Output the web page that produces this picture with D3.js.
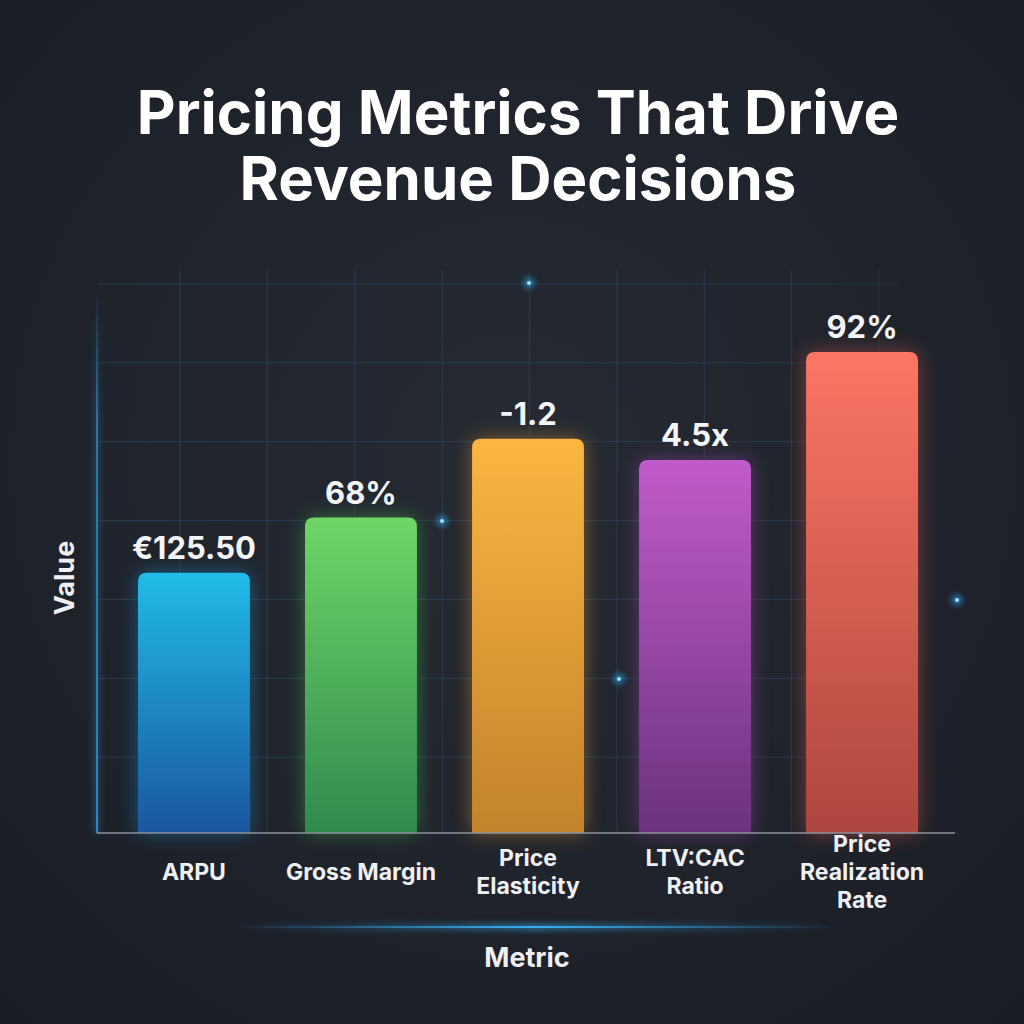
<!DOCTYPE html>
<html>
<head>
<meta charset="utf-8">
<script src="https://cdn.jsdelivr.net/npm/d3@7/dist/d3.min.js"></script>
<style>
  html, body { margin: 0; padding: 0; background: #1d2028; }
  svg { display: block; }
</style>
</head>
<body>
<div id="chart"></div>
<script>
// chart data
const metrics = ["ARPU", "Gross Margin", "Price Elasticity", "LTV:CAC Ratio", "Price Realization Rate"];
const labelLines = [["ARPU"], ["Gross Margin"], ["Price", "Elasticity"], ["LTV:CAC", "Ratio"], ["Price", "Realization", "Rate"]];
const valueLabels = ["€125.50", "68%", "-1.2", "4.5x", "92%"];
// visual bar height on the hidden value axis (grid units)
const barHeights = [3.3, 4.0, 5.0, 4.73, 6.1];
const topColors = ["#21bbe8", "#6fd667", "#fbb642", "#c25bca", "#fc7664"];
const bottomColors = ["#1a56a0", "#2f8a4e", "#c3832b", "#6a327e", "#ad463f"];
const glowColors = ["#1e9be0", "#4fc25a", "#f2a23a", "#b04fc0", "#f0604f"];
const sparkPoints = [[529, 283], [442, 521], [619, 679], [957, 600]];

const width = 1024, height = 1024;
const font = "Inter, 'Open Sans', sans-serif";

const svg = d3.select("#chart").append("svg")
  .attr("width", width)
  .attr("height", height);

const defs = svg.append("defs");

// background with a soft vignette
const bg = defs.append("radialGradient").attr("id", "bg")
  .attr("cx", "50%").attr("cy", "45%").attr("r", "75%");
bg.append("stop").attr("offset", "0%").attr("stop-color", "#252a33");
bg.append("stop").attr("offset", "100%").attr("stop-color", "#1a1d24");
svg.append("rect").attr("width", width).attr("height", height).attr("fill", "url(#bg)");

const glow = defs.append("filter").attr("id", "glow")
  .attr("x", "-50%").attr("y", "-50%").attr("width", "200%").attr("height", "200%");
glow.append("feGaussianBlur").attr("stdDeviation", 10);

const softGlow = defs.append("filter").attr("id", "softGlow")
  .attr("x", "-200%").attr("y", "-200%").attr("width", "500%").attr("height", "500%");
softGlow.append("feGaussianBlur").attr("stdDeviation", 3);

metrics.forEach((m, i) => {
  const g = defs.append("linearGradient").attr("id", "bar" + i)
    .attr("x1", 0).attr("y1", 0).attr("x2", 0).attr("y2", 1);
  g.append("stop").attr("offset", "0%").attr("stop-color", topColors[i]);
  g.append("stop").attr("offset", "100%").attr("stop-color", bottomColors[i]);
});

// grid fade mask
const fade = defs.append("linearGradient").attr("id", "gridFade")
  .attr("x1", 0).attr("y1", 0).attr("x2", 1).attr("y2", 0);
fade.append("stop").attr("offset", "0%").attr("stop-color", "#fff").attr("stop-opacity", 1);
fade.append("stop").attr("offset", "80%").attr("stop-color", "#fff").attr("stop-opacity", 0.8);
fade.append("stop").attr("offset", "100%").attr("stop-color", "#fff").attr("stop-opacity", 0);
defs.append("mask").attr("id", "gridMask")
  .append("rect").attr("x", 0).attr("y", 0).attr("width", width).attr("height", height)
  .attr("fill", "url(#gridFade)");

// layout
const left = 97, right = 955, baseline = 833;
const x = d3.scaleBand().domain(metrics).range([138, 918]).paddingInner(0.33).paddingOuter(0);
const y = d3.scaleLinear().domain([0, 7]).range([baseline, 281]);
const gx = d3.scaleLinear().domain([0, 8]).range([180, 879]);

// grid
const grid = svg.append("g").attr("mask", "url(#gridMask)");
grid.selectAll("line.h").data(d3.range(1, 8)).enter().append("line")
  .attr("x1", left).attr("x2", 900)
  .attr("y1", d => y(d) + 3).attr("y2", d => y(d) + 3)
  .attr("stroke", "#3a6f86").attr("stroke-opacity", 0.35).attr("stroke-width", 1);
grid.selectAll("line.v").data(d3.range(0, 9)).enter().append("line")
  .attr("x1", d => gx(d)).attr("x2", d => gx(d))
  .attr("y1", 270).attr("y2", baseline)
  .attr("stroke", "#3a6f86").attr("stroke-opacity", 0.35).attr("stroke-width", 1);

// left axis glow line
const axisFade = defs.append("linearGradient").attr("id", "axisFade")
  .attr("x1", 0).attr("y1", 0).attr("x2", 0).attr("y2", 1);
axisFade.append("stop").attr("offset", "0%").attr("stop-color", "#2e8fd0").attr("stop-opacity", 0);
axisFade.append("stop").attr("offset", "25%").attr("stop-color", "#2e8fd0").attr("stop-opacity", 0.7);
axisFade.append("stop").attr("offset", "100%").attr("stop-color", "#2e8fd0").attr("stop-opacity", 0.9);
svg.append("rect").attr("x", left - 1).attr("y", 290).attr("width", 2).attr("height", baseline - 290)
  .attr("fill", "url(#axisFade)");
svg.append("rect").attr("x", left - 3).attr("y", 290).attr("width", 6).attr("height", baseline - 290)
  .attr("fill", "url(#axisFade)").attr("opacity", 0.4).attr("filter", "url(#softGlow)");

// bars
const bars = svg.append("g");
const barPath = (d, i) => {
  const x0 = x(d), w = x.bandwidth(), y0 = y(barHeights[i]), r = 9;
  return `M${x0},${baseline} L${x0},${y0 + r} Q${x0},${y0} ${x0 + r},${y0} L${x0 + w - r},${y0} Q${x0 + w},${y0} ${x0 + w},${y0 + r} L${x0 + w},${baseline} Z`;
};
bars.selectAll("path.glow").data(metrics).enter().append("path")
  .attr("d", barPath)
  .attr("fill", (d, i) => glowColors[i])
  .attr("opacity", 0.45)
  .attr("filter", "url(#glow)");
bars.selectAll("path.bar").data(metrics).enter().append("path")
  .attr("d", barPath)
  .attr("fill", (d, i) => `url(#bar${i})`);

// value labels
svg.append("g").selectAll("text").data(metrics).enter().append("text")
  .attr("x", d => x(d) + x.bandwidth() / 2)
  .attr("y", (d, i) => y(barHeights[i]) - 14)
  .attr("text-anchor", "middle")
  .attr("font-family", font)
  .attr("font-weight", 700)
  .attr("font-size", 31)
  .attr("fill", "#f4f5f7")
  .text((d, i) => valueLabels[i]);

// x axis line
svg.append("line")
  .attr("x1", left).attr("x2", right)
  .attr("y1", baseline).attr("y2", baseline)
  .attr("stroke", "#8c929c").attr("stroke-width", 1.5);

// category labels
const lineH = 28;
const cats = svg.append("g").selectAll("text").data(metrics).enter().append("text")
  .attr("text-anchor", "middle")
  .attr("font-family", font)
  .attr("font-weight", 700)
  .attr("font-size", 23)
  .attr("fill", "#eef0f3");
cats.each(function(d, i) {
  const lines = labelLines[i];
  const cx = x(d) + x.bandwidth() / 2;
  const startY = 880 - (lines.length - 1) * lineH / 2;
  d3.select(this).selectAll("tspan").data(lines).enter().append("tspan")
    .attr("x", cx)
    .attr("y", (l, k) => startY + k * lineH)
    .text(l => l);
});

// glowing line above the axis title
const lineGrad = defs.append("linearGradient").attr("id", "lineGrad")
  .attr("x1", 0).attr("y1", 0).attr("x2", 1).attr("y2", 0);
lineGrad.append("stop").attr("offset", "0%").attr("stop-color", "#2a8fd6").attr("stop-opacity", 0);
lineGrad.append("stop").attr("offset", "50%").attr("stop-color", "#3ab0f0").attr("stop-opacity", 1);
lineGrad.append("stop").attr("offset", "100%").attr("stop-color", "#2a8fd6").attr("stop-opacity", 0);
svg.append("rect").attr("x", 230).attr("y", 924).attr("width", 610).attr("height", 6)
  .attr("fill", "url(#lineGrad)").attr("opacity", 0.6).attr("filter", "url(#softGlow)");
svg.append("rect").attr("x", 230).attr("y", 926).attr("width", 610).attr("height", 2)
  .attr("fill", "url(#lineGrad)");

// axis titles
svg.append("text")
  .attr("x", 527).attr("y", 967)
  .attr("text-anchor", "middle")
  .attr("font-family", font)
  .attr("font-weight", 700).attr("font-size", 27)
  .attr("fill", "#eef0f3")
  .text("Metric");
svg.append("text")
  .attr("transform", "translate(74,578) rotate(-90)")
  .attr("text-anchor", "middle")
  .attr("font-family", font)
  .attr("font-weight", 700).attr("font-size", 27)
  .attr("fill", "#eef0f3")
  .text("Value");

// sparkle dots
const sparks = svg.append("g");
sparks.selectAll("circle.halo").data(sparkPoints).enter().append("circle")
  .attr("cx", d => d[0]).attr("cy", d => d[1]).attr("r", 5)
  .attr("fill", "#2fb4ff").attr("opacity", 0.7).attr("filter", "url(#softGlow)");
sparks.selectAll("circle.core").data(sparkPoints).enter().append("circle")
  .attr("cx", d => d[0]).attr("cy", d => d[1]).attr("r", 2)
  .attr("fill", "#9be3ff");

// title
svg.append("text")
  .attr("text-anchor", "middle")
  .attr("font-family", font)
  .attr("font-weight", 700)
  .attr("font-size", 60)
  .attr("fill", "#ffffff")
  .selectAll("tspan").data(["Pricing Metrics That Drive", "Revenue Decisions"]).enter().append("tspan")
  .attr("x", 518)
  .attr("y", (d, i) => 134 + i * 66)
  .text(d => d);
</script>
</body>
</html>
